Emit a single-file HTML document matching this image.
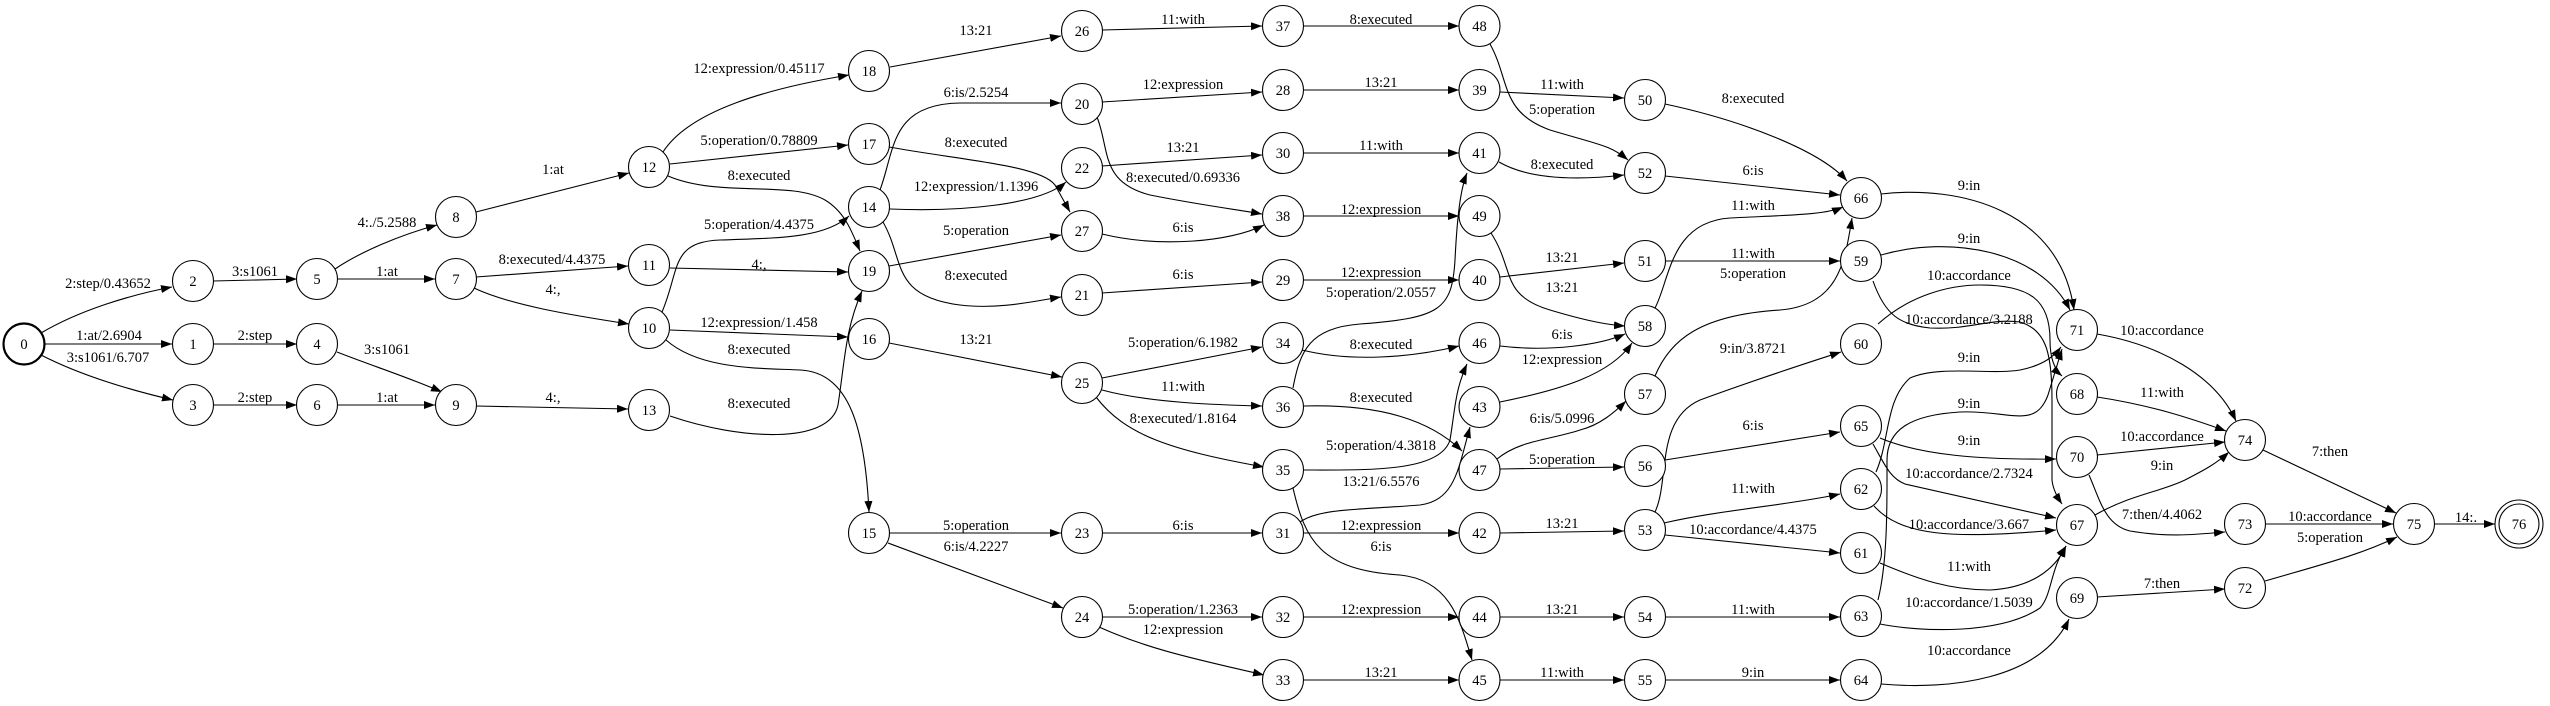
<!DOCTYPE html>
<html><head><meta charset="utf-8"><style>
html,body{margin:0;padding:0;background:#fff;}
svg{display:block;}
text{font-family:"Liberation Serif",serif;font-size:14.5px;fill:#000;}
.n{fill:#fff;stroke:#000;stroke-width:1.1;}
.e{fill:none;stroke:#000;stroke-width:1.1;marker-end:url(#a);}
</style></head><body>
<svg width="2550" height="706" viewBox="0 0 2550 706" xmlns="http://www.w3.org/2000/svg">
<defs><marker id="a" markerUnits="userSpaceOnUse" markerWidth="12" markerHeight="9" refX="11" refY="4" orient="auto"><path d="M0,0 L11,4 L0,8 z" fill="#000"/></marker></defs>
<g>
<path class="e" d="M41,333 C80,310 130,295 172,287"/>
<path class="e" d="M45,344 L172,344"/>
<path class="e" d="M41,355 C80,375 130,390 173,400"/>
<path class="e" d="M213,281 L297,279"/>
<path class="e" d="M213,344 L297,344"/>
<path class="e" d="M213,405 L297,405"/>
<path class="e" d="M335,269 C360,252 400,235 437,225"/>
<path class="e" d="M338,279 L435,279"/>
<path class="e" d="M337,352 C370,365 410,378 442,392"/>
<path class="e" d="M338,405 L435,405"/>
<path class="e" d="M476,212 L629,173"/>
<path class="e" d="M476,277 L628,266"/>
<path class="e" d="M474,288 C510,305 570,315 629,324"/>
<path class="e" d="M476,406 L628,409"/>
<path class="e" d="M663,152 C690,110 770,88 849,75"/>
<path class="e" d="M670,164 L848,145"/>
<path class="e" d="M668,176 C720,198 790,180 825,200 C845,212 852,232 860,251"/>
<path class="e" d="M662,312 C680,270 670,242 720,240 C780,238 825,238 849,216"/>
<path class="e" d="M670,268 L848,272"/>
<path class="e" d="M670,330 L848,337"/>
<path class="e" d="M666,340 C700,370 760,368 800,370 C850,372 865,430 869,512"/>
<path class="e" d="M670,416 C740,440 830,445 838,405 C845,360 845,330 862,291"/>
<path class="e" d="M890,67 L1061,36"/>
<path class="e" d="M880,190 C895,150 890,104 960,103 L1061,103"/>
<path class="e" d="M889,147 C960,160 1040,165 1055,185 L1070,212"/>
<path class="e" d="M890,209 C960,212 1040,205 1066,182"/>
<path class="e" d="M889,266 L1061,235"/>
<path class="e" d="M883,222 C905,260 890,296 960,305 C1000,310 1040,300 1061,297"/>
<path class="e" d="M889,343 L1062,377"/>
<path class="e" d="M890,533 L1061,533"/>
<path class="e" d="M888,543 L1063,608"/>
<path class="e" d="M1102,30 L1262,26"/>
<path class="e" d="M1102,102 L1262,92"/>
<path class="e" d="M1097,117 C1110,150 1100,182 1150,195 C1200,205 1240,210 1262,214"/>
<path class="e" d="M1102,166 L1262,155"/>
<path class="e" d="M1102,234 C1160,248 1230,242 1264,225"/>
<path class="e" d="M1102,293 L1262,282"/>
<path class="e" d="M1102,378 L1262,347"/>
<path class="e" d="M1102,390 C1150,403 1220,405 1262,406"/>
<path class="e" d="M1096,397 C1125,435 1170,450 1264,467"/>
<path class="e" d="M1102,533 L1262,533"/>
<path class="e" d="M1102,617 L1262,617"/>
<path class="e" d="M1099,627 C1150,650 1200,660 1264,675"/>
<path class="e" d="M1304,26 L1459,26"/>
<path class="e" d="M1304,90 L1459,90"/>
<path class="e" d="M1304,153 L1459,153"/>
<path class="e" d="M1304,216 L1459,216"/>
<path class="e" d="M1304,280 L1459,280"/>
<path class="e" d="M1293,388 C1300,350 1310,328 1360,324 C1440,318 1452,310 1455,260 C1457,220 1460,190 1467,173"/>
<path class="e" d="M1302,350 C1350,362 1410,358 1459,346"/>
<path class="e" d="M1304,406 C1380,404 1430,420 1462,451"/>
<path class="e" d="M1304,470 C1370,470 1440,472 1450,440 C1455,410 1455,390 1467,364"/>
<path class="e" d="M1300,522 C1320,508 1360,510 1420,505 C1455,500 1458,470 1470,427"/>
<path class="e" d="M1304,533 L1459,533"/>
<path class="e" d="M1293,488 C1305,540 1320,570 1400,575 C1450,580 1460,620 1472,660"/>
<path class="e" d="M1304,617 L1459,617"/>
<path class="e" d="M1304,680 L1459,680"/>
<path class="e" d="M1490,44 C1510,80 1500,112 1550,130 C1600,145 1610,145 1628,160"/>
<path class="e" d="M1500,92 L1624,98"/>
<path class="e" d="M1499,162 C1530,180 1580,180 1624,175"/>
<path class="e" d="M1491,233 C1515,270 1500,295 1550,310 C1590,322 1610,325 1625,326"/>
<path class="e" d="M1500,277 L1624,263"/>
<path class="e" d="M1500,346 C1550,352 1600,345 1625,334"/>
<path class="e" d="M1500,402 C1560,390 1610,375 1632,343"/>
<path class="e" d="M1497,459 C1520,440 1550,440 1580,430 C1600,425 1615,412 1626,401"/>
<path class="e" d="M1500,469 L1624,467"/>
<path class="e" d="M1500,533 L1624,531"/>
<path class="e" d="M1500,617 L1624,617"/>
<path class="e" d="M1500,680 L1624,680"/>
<path class="e" d="M1665,104 C1740,120 1820,150 1847,181"/>
<path class="e" d="M1665,176 L1840,195"/>
<path class="e" d="M1655,308 C1670,280 1670,222 1730,218 C1790,215 1825,215 1843,207"/>
<path class="e" d="M1665,261 L1840,261"/>
<path class="e" d="M1655,376 C1670,340 1700,315 1780,310 C1840,305 1845,260 1852,218"/>
<path class="e" d="M1655,512 C1670,480 1655,420 1700,400 C1760,378 1810,362 1841,352"/>
<path class="e" d="M1665,460 L1840,432"/>
<path class="e" d="M1664,523 C1720,510 1790,505 1840,494"/>
<path class="e" d="M1665,535 L1840,553"/>
<path class="e" d="M1665,617 L1840,617"/>
<path class="e" d="M1665,680 L1840,680"/>
<path class="e" d="M1881,194 C1960,185 2060,210 2074,310"/>
<path class="e" d="M1881,255 C1950,235 2040,250 2070,310"/>
<path class="e" d="M1878,324 C1910,295 1950,285 1980,285 C2030,285 2050,300 2050,340 C2050,360 2055,370 2062,376"/>
<path class="e" d="M1873,281 C1885,315 1900,325 1930,328 C1970,330 1990,318 2020,322 C2045,330 2052,350 2052,400 L2052,480 C2053,490 2058,498 2062,504"/>
<path class="e" d="M1876,472 C1890,440 1885,400 1910,378 C1940,365 1990,375 2020,370 C2045,365 2055,355 2061,347"/>
<path class="e" d="M1878,600 C1888,560 1887,500 1887,460 C1887,430 1910,415 1960,412 C2010,410 2035,430 2048,395 L2062,349"/>
<path class="e" d="M1880,438 C1920,455 1980,460 2056,459"/>
<path class="e" d="M1873,444 C1885,465 1890,478 1905,484 L2056,518"/>
<path class="e" d="M1874,506 C1900,535 1950,540 2056,530"/>
<path class="e" d="M1880,563 C1920,580 1950,590 1990,590 C2030,588 2055,570 2066,546"/>
<path class="e" d="M1880,624 C1920,632 2000,635 2040,608 C2052,595 2050,570 2066,546"/>
<path class="e" d="M1881,684 C1950,690 2040,680 2069,619"/>
<path class="e" d="M2097,334 C2160,345 2215,375 2236,421"/>
<path class="e" d="M2097,397 C2150,405 2190,418 2226,431"/>
<path class="e" d="M2097,455 L2225,442"/>
<path class="e" d="M2095,515 C2130,495 2160,492 2185,480 C2200,472 2215,465 2229,452"/>
<path class="e" d="M2089,475 C2100,500 2105,525 2130,531 C2170,538 2200,534 2225,532"/>
<path class="e" d="M2097,597 L2225,589"/>
<path class="e" d="M2263,450 L2396,513"/>
<path class="e" d="M2266,524 L2393,524"/>
<path class="e" d="M2265,581 C2320,565 2360,555 2397,537"/>
<path class="e" d="M2434,524 L2495,524"/>
</g>
<g text-anchor="middle">
<text x="108" y="288">2:step/0.43652</text>
<text x="109" y="340">1:at/2.6904</text>
<text x="108" y="362">3:s1061/6.707</text>
<text x="255" y="276">3:s1061</text>
<text x="255" y="340">2:step</text>
<text x="255" y="402">2:step</text>
<text x="387" y="227">4:./5.2588</text>
<text x="387" y="276">1:at</text>
<text x="387" y="354">3:s1061</text>
<text x="387" y="402">1:at</text>
<text x="553" y="174">1:at</text>
<text x="552" y="264">8:executed/4.4375</text>
<text x="553" y="294">4:,</text>
<text x="553" y="402">4:,</text>
<text x="759" y="73">12:expression/0.45117</text>
<text x="759" y="145">5:operation/0.78809</text>
<text x="759" y="180">8:executed</text>
<text x="759" y="229">5:operation/4.4375</text>
<text x="759" y="269">4:,</text>
<text x="759" y="327">12:expression/1.458</text>
<text x="759" y="354">8:executed</text>
<text x="759" y="408">8:executed</text>
<text x="976" y="35">13:21</text>
<text x="976" y="97">6:is/2.5254</text>
<text x="976" y="147">8:executed</text>
<text x="976" y="191">12:expression/1.1396</text>
<text x="976" y="235">5:operation</text>
<text x="976" y="280">8:executed</text>
<text x="976" y="344">13:21</text>
<text x="976" y="530">5:operation</text>
<text x="976" y="551">6:is/4.2227</text>
<text x="1183" y="24">11:with</text>
<text x="1183" y="89">12:expression</text>
<text x="1183" y="152">13:21</text>
<text x="1183" y="182">8:executed/0.69336</text>
<text x="1183" y="232">6:is</text>
<text x="1183" y="279">6:is</text>
<text x="1183" y="347">5:operation/6.1982</text>
<text x="1183" y="391">11:with</text>
<text x="1183" y="423">8:executed/1.8164</text>
<text x="1183" y="530">6:is</text>
<text x="1183" y="614">5:operation/1.2363</text>
<text x="1183" y="634">12:expression</text>
<text x="1381" y="24">8:executed</text>
<text x="1381" y="87">13:21</text>
<text x="1381" y="150">11:with</text>
<text x="1381" y="214">12:expression</text>
<text x="1381" y="277">12:expression</text>
<text x="1381" y="297">5:operation/2.0557</text>
<text x="1381" y="349">8:executed</text>
<text x="1381" y="402">8:executed</text>
<text x="1381" y="450">5:operation/4.3818</text>
<text x="1381" y="486">13:21/6.5576</text>
<text x="1381" y="530">12:expression</text>
<text x="1381" y="551">6:is</text>
<text x="1381" y="614">12:expression</text>
<text x="1381" y="677">13:21</text>
<text x="1562" y="89">11:with</text>
<text x="1562" y="114">5:operation</text>
<text x="1562" y="169">8:executed</text>
<text x="1562" y="262">13:21</text>
<text x="1562" y="292">13:21</text>
<text x="1562" y="339">6:is</text>
<text x="1562" y="364">12:expression</text>
<text x="1562" y="423">6:is/5.0996</text>
<text x="1562" y="464">5:operation</text>
<text x="1562" y="528">13:21</text>
<text x="1562" y="614">13:21</text>
<text x="1562" y="677">11:with</text>
<text x="1753" y="103">8:executed</text>
<text x="1753" y="175">6:is</text>
<text x="1753" y="210">11:with</text>
<text x="1753" y="258">11:with</text>
<text x="1753" y="278">5:operation</text>
<text x="1753" y="353">9:in/3.8721</text>
<text x="1753" y="430">6:is</text>
<text x="1753" y="493">11:with</text>
<text x="1753" y="534">10:accordance/4.4375</text>
<text x="1753" y="614">11:with</text>
<text x="1753" y="677">9:in</text>
<text x="1969" y="190">9:in</text>
<text x="1969" y="243">9:in</text>
<text x="1969" y="280">10:accordance</text>
<text x="1969" y="324">10:accordance/3.2188</text>
<text x="1969" y="362">9:in</text>
<text x="1969" y="408">9:in</text>
<text x="1969" y="445">9:in</text>
<text x="1969" y="478">10:accordance/2.7324</text>
<text x="1969" y="529">10:accordance/3.667</text>
<text x="1969" y="571">11:with</text>
<text x="1969" y="607">10:accordance/1.5039</text>
<text x="1969" y="655">10:accordance</text>
<text x="2162" y="335">10:accordance</text>
<text x="2162" y="397">11:with</text>
<text x="2162" y="441">10:accordance</text>
<text x="2162" y="470">9:in</text>
<text x="2162" y="519">7:then/4.4062</text>
<text x="2162" y="588">7:then</text>
<text x="2330" y="456">7:then</text>
<text x="2330" y="521">10:accordance</text>
<text x="2330" y="542">5:operation</text>
<text x="2466" y="522">14:.</text>
</g>
<g>
<circle class="n" cx="24" cy="344" r="20.5" style="stroke-width:2.2"/>
<circle class="n" cx="193" cy="281" r="20.5"/><circle class="n" cx="193" cy="344" r="20.5"/><circle class="n" cx="193" cy="405" r="20.5"/>
<circle class="n" cx="317" cy="279" r="20.5"/><circle class="n" cx="317" cy="344" r="20.5"/><circle class="n" cx="317" cy="405" r="20.5"/>
<circle class="n" cx="456" cy="217" r="20.5"/><circle class="n" cx="456" cy="279" r="20.5"/><circle class="n" cx="456" cy="405" r="20.5"/>
<circle class="n" cx="649" cy="167" r="20.5"/><circle class="n" cx="649" cy="265" r="20.5"/><circle class="n" cx="649" cy="328" r="20.5"/><circle class="n" cx="649" cy="410" r="20.5"/>
<circle class="n" cx="869" cy="71" r="20.5"/><circle class="n" cx="869" cy="144" r="20.5"/><circle class="n" cx="869" cy="207" r="20.5"/><circle class="n" cx="869" cy="271" r="20.5"/><circle class="n" cx="869" cy="339" r="20.5"/><circle class="n" cx="869" cy="533" r="20.5"/>
<circle class="n" cx="1082" cy="31" r="20.5"/><circle class="n" cx="1082" cy="104" r="20.5"/><circle class="n" cx="1082" cy="168" r="20.5"/><circle class="n" cx="1082" cy="231" r="20.5"/><circle class="n" cx="1082" cy="295" r="20.5"/><circle class="n" cx="1082" cy="383" r="20.5"/><circle class="n" cx="1082" cy="533" r="20.5"/><circle class="n" cx="1082" cy="617" r="20.5"/>
<circle class="n" cx="1283" cy="26" r="20.5"/><circle class="n" cx="1283" cy="90" r="20.5"/><circle class="n" cx="1283" cy="153" r="20.5"/><circle class="n" cx="1283" cy="216" r="20.5"/><circle class="n" cx="1283" cy="280" r="20.5"/><circle class="n" cx="1283" cy="343" r="20.5"/><circle class="n" cx="1283" cy="407" r="20.5"/><circle class="n" cx="1283" cy="470" r="20.5"/><circle class="n" cx="1283" cy="533" r="20.5"/><circle class="n" cx="1283" cy="617" r="20.5"/><circle class="n" cx="1283" cy="680" r="20.5"/>
<circle class="n" cx="1479.5" cy="26" r="20.5"/><circle class="n" cx="1479.5" cy="90" r="20.5"/><circle class="n" cx="1479.5" cy="153" r="20.5"/><circle class="n" cx="1479.5" cy="216" r="20.5"/><circle class="n" cx="1479.5" cy="280" r="20.5"/><circle class="n" cx="1479.5" cy="343" r="20.5"/><circle class="n" cx="1479.5" cy="407" r="20.5"/><circle class="n" cx="1479.5" cy="470" r="20.5"/><circle class="n" cx="1479.5" cy="533" r="20.5"/><circle class="n" cx="1479.5" cy="617" r="20.5"/><circle class="n" cx="1479.5" cy="680" r="20.5"/>
<circle class="n" cx="1645" cy="100" r="20.5"/><circle class="n" cx="1645" cy="173" r="20.5"/><circle class="n" cx="1645" cy="261" r="20.5"/><circle class="n" cx="1645" cy="326" r="20.5"/><circle class="n" cx="1645" cy="394" r="20.5"/><circle class="n" cx="1645" cy="466" r="20.5"/><circle class="n" cx="1645" cy="530" r="20.5"/><circle class="n" cx="1645" cy="617" r="20.5"/><circle class="n" cx="1645" cy="680" r="20.5"/>
<circle class="n" cx="1861" cy="198" r="20.5"/><circle class="n" cx="1861" cy="261" r="20.5"/><circle class="n" cx="1861" cy="344" r="20.5"/><circle class="n" cx="1861" cy="426" r="20.5"/><circle class="n" cx="1861" cy="489" r="20.5"/><circle class="n" cx="1861" cy="553" r="20.5"/><circle class="n" cx="1861" cy="616" r="20.5"/><circle class="n" cx="1861" cy="680" r="20.5"/>
<circle class="n" cx="2077" cy="330" r="20.5"/><circle class="n" cx="2077" cy="394" r="20.5"/><circle class="n" cx="2077" cy="457" r="20.5"/><circle class="n" cx="2077" cy="525" r="20.5"/><circle class="n" cx="2077" cy="598" r="20.5"/>
<circle class="n" cx="2245" cy="440" r="20.5"/><circle class="n" cx="2245" cy="524" r="20.5"/><circle class="n" cx="2245" cy="588" r="20.5"/>
<circle class="n" cx="2414" cy="524" r="20.5"/>
<circle class="n" cx="2519" cy="524" r="24"/><circle class="n" cx="2519" cy="524" r="20"/>
</g>
<g text-anchor="middle">
<text x="24" y="349">0</text>
<text x="193" y="286">2</text><text x="193" y="349">1</text><text x="193" y="410">3</text>
<text x="317" y="284">5</text><text x="317" y="349">4</text><text x="317" y="410">6</text>
<text x="456" y="222">8</text><text x="456" y="284">7</text><text x="456" y="410">9</text>
<text x="649" y="172">12</text><text x="649" y="270">11</text><text x="649" y="333">10</text><text x="649" y="415">13</text>
<text x="869" y="76">18</text><text x="869" y="149">17</text><text x="869" y="212">14</text><text x="869" y="276">19</text><text x="869" y="344">16</text><text x="869" y="538">15</text>
<text x="1082" y="36">26</text><text x="1082" y="109">20</text><text x="1082" y="173">22</text><text x="1082" y="236">27</text><text x="1082" y="300">21</text><text x="1082" y="388">25</text><text x="1082" y="538">23</text><text x="1082" y="622">24</text>
<text x="1283" y="31">37</text><text x="1283" y="95">28</text><text x="1283" y="158">30</text><text x="1283" y="221">38</text><text x="1283" y="285">29</text><text x="1283" y="348">34</text><text x="1283" y="412">36</text><text x="1283" y="475">35</text><text x="1283" y="538">31</text><text x="1283" y="622">32</text><text x="1283" y="685">33</text>
<text x="1479.5" y="31">48</text><text x="1479.5" y="95">39</text><text x="1479.5" y="158">41</text><text x="1479.5" y="221">49</text><text x="1479.5" y="285">40</text><text x="1479.5" y="348">46</text><text x="1479.5" y="412">43</text><text x="1479.5" y="475">47</text><text x="1479.5" y="538">42</text><text x="1479.5" y="622">44</text><text x="1479.5" y="685">45</text>
<text x="1645" y="105">50</text><text x="1645" y="178">52</text><text x="1645" y="266">51</text><text x="1645" y="331">58</text><text x="1645" y="399">57</text><text x="1645" y="471">56</text><text x="1645" y="535">53</text><text x="1645" y="622">54</text><text x="1645" y="685">55</text>
<text x="1861" y="203">66</text><text x="1861" y="266">59</text><text x="1861" y="349">60</text><text x="1861" y="431">65</text><text x="1861" y="494">62</text><text x="1861" y="558">61</text><text x="1861" y="621">63</text><text x="1861" y="685">64</text>
<text x="2077" y="335">71</text><text x="2077" y="399">68</text><text x="2077" y="462">70</text><text x="2077" y="530">67</text><text x="2077" y="603">69</text>
<text x="2245" y="445">74</text><text x="2245" y="529">73</text><text x="2245" y="593">72</text>
<text x="2414" y="529">75</text>
<text x="2519" y="529">76</text>
</g>
</svg>
</body></html>
